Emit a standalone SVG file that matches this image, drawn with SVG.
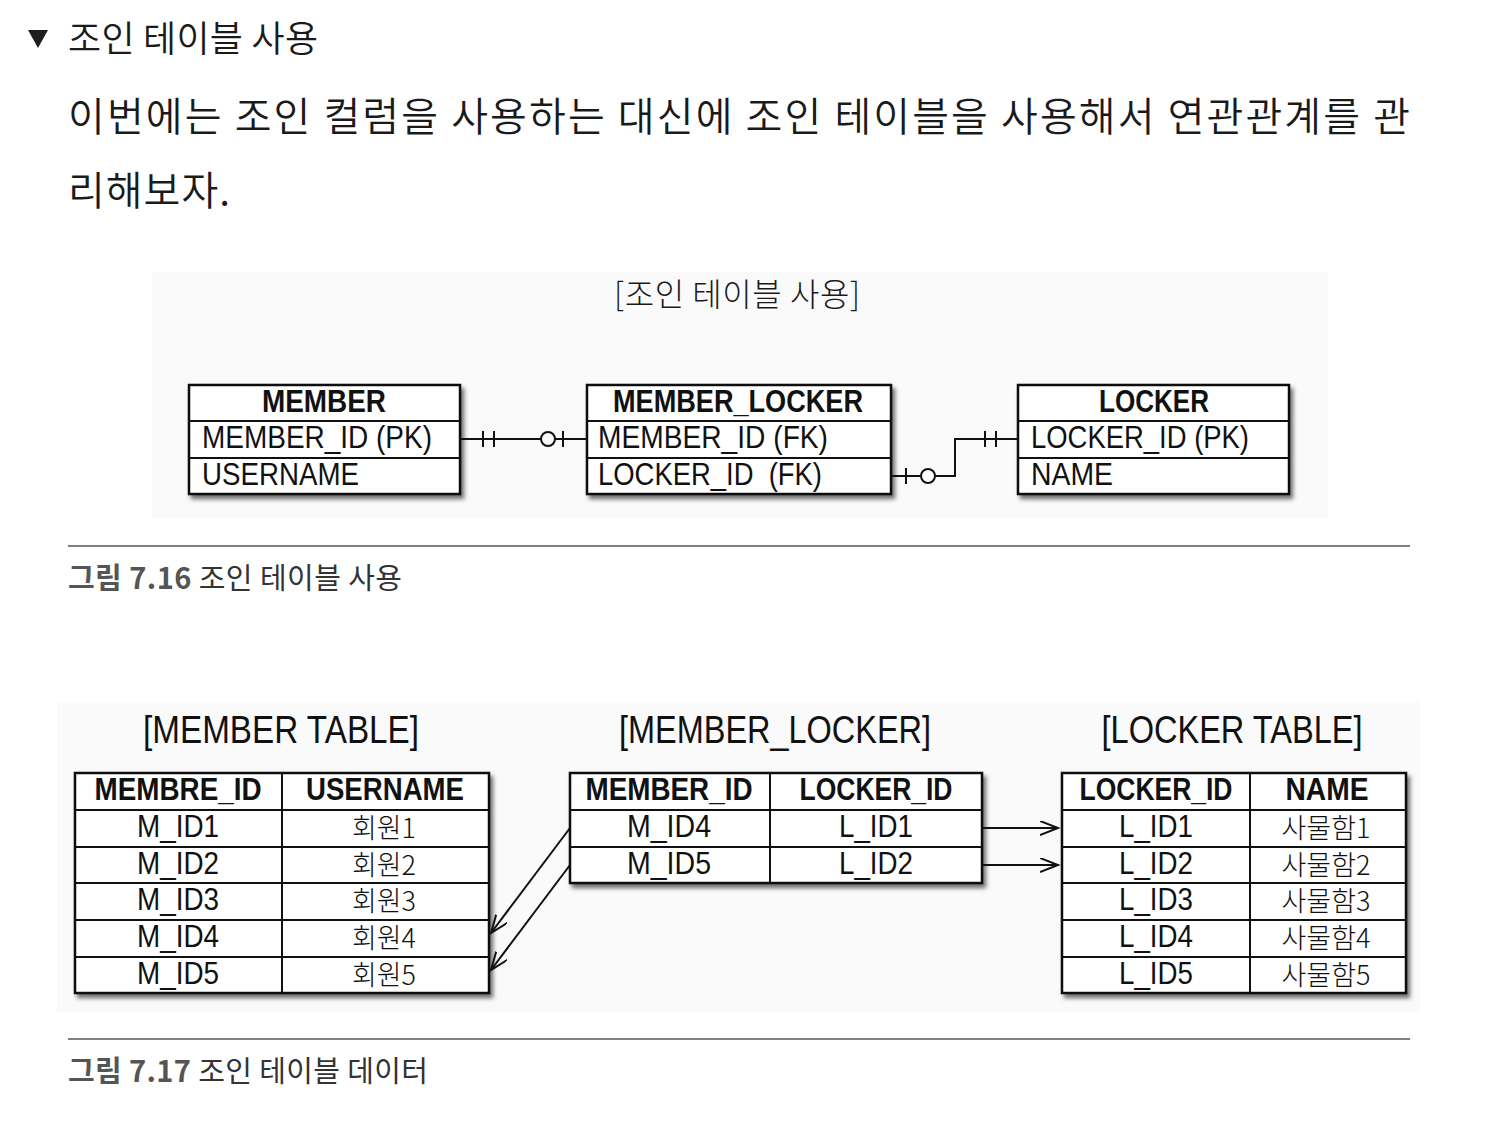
<svg xmlns="http://www.w3.org/2000/svg" width="1504" height="1126" viewBox="0 0 1504 1126">
<defs>
<style>
.kr{font-family:"Noto Sans CJK KR",sans-serif;fill:#1a1a1a}
.t{font-family:"Liberation Sans","Noto Sans CJK KR",sans-serif;fill:#111}
.tk{font-family:"Noto Sans CJK KR",sans-serif;fill:#111;font-size:27px;font-weight:300}
.h{font-weight:bold;font-size:31px}
.r{font-size:32px}
.ttl{font-size:38px}
.box{fill:#fff;stroke:#111;stroke-width:2.5}
.dv{stroke:#111;stroke-width:2}
.ln{stroke:#111;stroke-width:2;fill:none}
.panel{fill:#fafafa}
.cap{font-family:"Noto Sans CJK KR",sans-serif;font-size:29px}
</style>
<filter id="sh" x="-5%" y="-5%" width="115%" height="125%"><feDropShadow dx="3" dy="4" stdDeviation="2" flood-color="#000" flood-opacity="0.55"/></filter>
<marker id="ah" markerUnits="userSpaceOnUse" markerWidth="22" markerHeight="18" refX="18" refY="7" orient="auto"><path d="M0,0 L18,7 L0,14" fill="none" stroke="#111" stroke-width="2"/></marker>
</defs>
<rect width="1504" height="1126" fill="#fff"/>

<!-- intro text -->
<g id="heading">
<polygon points="28,30 48,30 38,48" fill="#1e1e1e"/>
<text class="kr" x="68" y="52" font-size="36" font-weight="350" textLength="250" lengthAdjust="spacing">조인 테이블 사용</text>
</g>
<g id="paragraph">
<text class="kr" x="68" y="131" font-size="40" font-weight="350" textLength="1342" lengthAdjust="spacing">이번에는 조인 컬럼을 사용하는 대신에 조인 테이블을 사용해서 연관관계를 관</text>
<text class="kr" x="68" y="205" font-size="40" font-weight="350" textLength="162" lengthAdjust="spacing">리해보자.</text>
</g>

<!-- Figure 7.16 -->
<rect class="panel" x="152" y="272" width="1176" height="246"/>
<text class="kr" x="737" y="306" font-size="32" font-weight="300" text-anchor="middle" textLength="246" lengthAdjust="spacing">[조인 테이블 사용]</text>

<g id="member">
<rect class="box" x="189" y="385" width="271" height="109" filter="url(#sh)"/>
<line class="dv" x1="189" y1="421" x2="460" y2="421"/>
<line class="dv" x1="189" y1="458" x2="460" y2="458"/>
<text class="t h" x="324" y="412" text-anchor="middle" textLength="124" lengthAdjust="spacingAndGlyphs">MEMBER</text>
<text class="t r" x="202" y="448" textLength="230" lengthAdjust="spacingAndGlyphs">MEMBER_ID (PK)</text>
<text class="t r" x="202" y="485" textLength="157" lengthAdjust="spacingAndGlyphs">USERNAME</text>
</g>
<g id="member_locker">
<rect class="box" x="587" y="385" width="304" height="109" filter="url(#sh)"/>
<line class="dv" x1="587" y1="421" x2="891" y2="421"/>
<line class="dv" x1="587" y1="458" x2="891" y2="458"/>
<text class="t h" x="738" y="412" text-anchor="middle" textLength="250" lengthAdjust="spacingAndGlyphs">MEMBER_LOCKER</text>
<text class="t r" x="598" y="448" textLength="230" lengthAdjust="spacingAndGlyphs">MEMBER_ID (FK)</text>
<text class="t r" x="598" y="485" textLength="224" lengthAdjust="spacingAndGlyphs" xml:space="preserve">LOCKER_ID  (FK)</text>
</g>
<g id="locker">
<rect class="box" x="1018" y="385" width="271" height="109" filter="url(#sh)"/>
<line class="dv" x1="1018" y1="421" x2="1289" y2="421"/>
<line class="dv" x1="1018" y1="458" x2="1289" y2="458"/>
<text class="t h" x="1154" y="412" text-anchor="middle" textLength="110" lengthAdjust="spacingAndGlyphs">LOCKER</text>
<text class="t r" x="1031" y="448" textLength="218" lengthAdjust="spacingAndGlyphs">LOCKER_ID (PK)</text>
<text class="t r" x="1031" y="485" textLength="82" lengthAdjust="spacingAndGlyphs">NAME</text>
</g>

<g id="connectors-716">
<line class="ln" x1="460" y1="439" x2="541" y2="439"/>
<line class="ln" x1="483" y1="431" x2="483" y2="447"/>
<line class="ln" x1="494" y1="431" x2="494" y2="447"/>
<circle class="ln" cx="548" cy="439" r="7" fill="#fff"/>
<line class="ln" x1="555" y1="439" x2="587" y2="439"/>
<line class="ln" x1="563" y1="431" x2="563" y2="447"/>
<line class="ln" x1="891" y1="476" x2="921" y2="476"/>
<line class="ln" x1="906" y1="468" x2="906" y2="484"/>
<circle class="ln" cx="928" cy="476" r="7" fill="#fff"/>
<polyline class="ln" points="935,476 955,476 955,439 1018,439"/>
<line class="ln" x1="985" y1="431" x2="985" y2="447"/>
<line class="ln" x1="996" y1="431" x2="996" y2="447"/>
</g>

<g id="caption-716">
<line x1="68" y1="546" x2="1410" y2="546" stroke="#555" stroke-width="1.5"/>
<text class="cap" x="68" y="589" textLength="334" lengthAdjust="spacing"><tspan font-weight="bold" fill="#555">그림 7.16</tspan><tspan fill="#333"> 조인 테이블 사용</tspan></text>
</g>

<!-- Figure 7.17 -->
<rect class="panel" x="57" y="702" width="1363" height="310"/>
<text class="t ttl" x="281" y="743" text-anchor="middle" textLength="276" lengthAdjust="spacingAndGlyphs">[MEMBER TABLE]</text>
<text class="t ttl" x="775" y="743" text-anchor="middle" textLength="312" lengthAdjust="spacingAndGlyphs">[MEMBER_LOCKER]</text>
<text class="t ttl" x="1232" y="743" text-anchor="middle" textLength="261" lengthAdjust="spacingAndGlyphs">[LOCKER TABLE]</text>

<g id="member-table">
<rect class="box" x="75" y="773" width="414" height="220" filter="url(#sh)"/>
<line class="dv" x1="75" y1="810" x2="489" y2="810"/>
<line class="dv" x1="75" y1="847" x2="489" y2="847"/>
<line class="dv" x1="75" y1="883" x2="489" y2="883"/>
<line class="dv" x1="75" y1="920" x2="489" y2="920"/>
<line class="dv" x1="75" y1="957" x2="489" y2="957"/>
<line class="dv" x1="282" y1="773" x2="282" y2="993"/>
<text class="t h" x="178" y="800" text-anchor="middle" textLength="167" lengthAdjust="spacingAndGlyphs">MEMBRE_ID</text>
<text class="t h" x="385" y="800" text-anchor="middle" textLength="158" lengthAdjust="spacingAndGlyphs">USERNAME</text>
<text class="t r" x="178" y="837" text-anchor="middle" textLength="82" lengthAdjust="spacingAndGlyphs">M_ID1</text>
<text class="t r" x="178" y="874" text-anchor="middle" textLength="82" lengthAdjust="spacingAndGlyphs">M_ID2</text>
<text class="t r" x="178" y="910" text-anchor="middle" textLength="82" lengthAdjust="spacingAndGlyphs">M_ID3</text>
<text class="t r" x="178" y="947" text-anchor="middle" textLength="82" lengthAdjust="spacingAndGlyphs">M_ID4</text>
<text class="t r" x="178" y="984" text-anchor="middle" textLength="82" lengthAdjust="spacingAndGlyphs">M_ID5</text>
<text class="tk" x="384" y="838" text-anchor="middle" textLength="64" lengthAdjust="spacingAndGlyphs">회원1</text>
<text class="tk" x="384" y="875" text-anchor="middle" textLength="64" lengthAdjust="spacingAndGlyphs">회원2</text>
<text class="tk" x="384" y="911" text-anchor="middle" textLength="64" lengthAdjust="spacingAndGlyphs">회원3</text>
<text class="tk" x="384" y="948" text-anchor="middle" textLength="64" lengthAdjust="spacingAndGlyphs">회원4</text>
<text class="tk" x="384" y="985" text-anchor="middle" textLength="64" lengthAdjust="spacingAndGlyphs">회원5</text>
</g>

<g id="member-locker-table">
<rect class="box" x="570" y="773" width="412" height="110" filter="url(#sh)"/>
<line class="dv" x1="570" y1="810" x2="982" y2="810"/>
<line class="dv" x1="570" y1="847" x2="982" y2="847"/>
<line class="dv" x1="770" y1="773" x2="770" y2="883"/>
<text class="t h" x="669" y="800" text-anchor="middle" textLength="167" lengthAdjust="spacingAndGlyphs">MEMBER_ID</text>
<text class="t h" x="876" y="800" text-anchor="middle" textLength="153" lengthAdjust="spacingAndGlyphs">LOCKER_ID</text>
<text class="t r" x="669" y="837" text-anchor="middle" textLength="84" lengthAdjust="spacingAndGlyphs">M_ID4</text>
<text class="t r" x="669" y="874" text-anchor="middle" textLength="84" lengthAdjust="spacingAndGlyphs">M_ID5</text>
<text class="t r" x="876" y="837" text-anchor="middle" textLength="74" lengthAdjust="spacingAndGlyphs">L_ID1</text>
<text class="t r" x="876" y="874" text-anchor="middle" textLength="74" lengthAdjust="spacingAndGlyphs">L_ID2</text>
</g>

<g id="locker-table">
<rect class="box" x="1062" y="773" width="344" height="220" filter="url(#sh)"/>
<line class="dv" x1="1062" y1="810" x2="1406" y2="810"/>
<line class="dv" x1="1062" y1="847" x2="1406" y2="847"/>
<line class="dv" x1="1062" y1="883" x2="1406" y2="883"/>
<line class="dv" x1="1062" y1="920" x2="1406" y2="920"/>
<line class="dv" x1="1062" y1="957" x2="1406" y2="957"/>
<line class="dv" x1="1250" y1="773" x2="1250" y2="993"/>
<text class="t h" x="1156" y="800" text-anchor="middle" textLength="153" lengthAdjust="spacingAndGlyphs">LOCKER_ID</text>
<text class="t h" x="1327" y="800" text-anchor="middle" textLength="83" lengthAdjust="spacingAndGlyphs">NAME</text>
<text class="t r" x="1156" y="837" text-anchor="middle" textLength="74" lengthAdjust="spacingAndGlyphs">L_ID1</text>
<text class="t r" x="1156" y="874" text-anchor="middle" textLength="74" lengthAdjust="spacingAndGlyphs">L_ID2</text>
<text class="t r" x="1156" y="910" text-anchor="middle" textLength="74" lengthAdjust="spacingAndGlyphs">L_ID3</text>
<text class="t r" x="1156" y="947" text-anchor="middle" textLength="74" lengthAdjust="spacingAndGlyphs">L_ID4</text>
<text class="t r" x="1156" y="984" text-anchor="middle" textLength="74" lengthAdjust="spacingAndGlyphs">L_ID5</text>
<text class="tk" x="1326" y="838" text-anchor="middle" textLength="89" lengthAdjust="spacingAndGlyphs">사물함1</text>
<text class="tk" x="1326" y="875" text-anchor="middle" textLength="89" lengthAdjust="spacingAndGlyphs">사물함2</text>
<text class="tk" x="1326" y="911" text-anchor="middle" textLength="89" lengthAdjust="spacingAndGlyphs">사물함3</text>
<text class="tk" x="1326" y="948" text-anchor="middle" textLength="89" lengthAdjust="spacingAndGlyphs">사물함4</text>
<text class="tk" x="1326" y="985" text-anchor="middle" textLength="89" lengthAdjust="spacingAndGlyphs">사물함5</text>
</g>

<g id="connectors-717">
<line class="ln" x1="570" y1="828" x2="491" y2="933" marker-end="url(#ah)"/>
<line class="ln" x1="570" y1="865" x2="491" y2="970" marker-end="url(#ah)"/>
<line class="ln" x1="982" y1="828" x2="1058" y2="828" marker-end="url(#ah)"/>
<line class="ln" x1="982" y1="865" x2="1058" y2="865" marker-end="url(#ah)"/>
</g>

<g id="caption-717">
<line x1="68" y1="1039" x2="1410" y2="1039" stroke="#555" stroke-width="1.5"/>
<text class="cap" x="68" y="1082" textLength="360" lengthAdjust="spacing"><tspan font-weight="bold" fill="#555">그림 7.17</tspan><tspan fill="#333"> 조인 테이블 데이터</tspan></text>
</g>
</svg>
